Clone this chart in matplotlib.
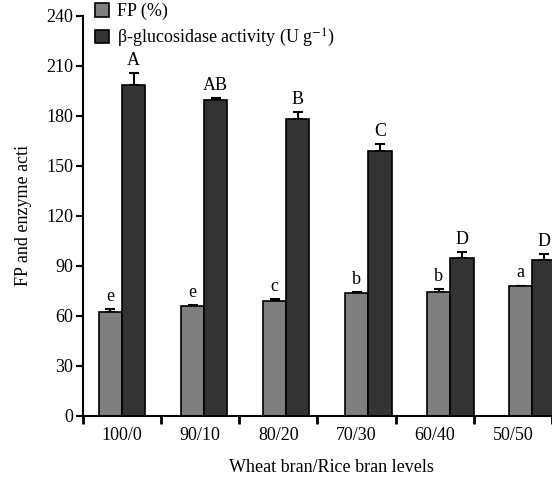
import numpy as np
import matplotlib
matplotlib.use("Agg")
import matplotlib.pyplot as plt

plt.rcParams['font.family'] = ['Liberation Serif', 'DejaVu Serif']
plt.rcParams['mathtext.fontset'] = 'stix'

# data
levels = ['100/0', '90/10', '80/20', '70/30', '60/40', '50/50']
fp = [62.6, 65.8, 69.2, 73.6, 74.2, 77.8]
fp_err = [1.6, 0.6, 1.0, 1.0, 1.8, 0.5]
enzyme = [198.8, 189.4, 178.4, 159.0, 94.8, 93.6]
enzyme_err = [7.0, 1.2, 4.2, 4.2, 3.6, 3.6]
fp_letters = ['e', 'e', 'c', 'b', 'b', 'a']
enzyme_letters = ['A', 'AB', 'B', 'C', 'D', 'D']

W, H = 552, 483
fig = plt.figure(figsize=(W / 100, H / 100), dpi=100)
ax = fig.add_axes([83 / W, (H - 416) / H, (W - 83) / W, 400 / H])

width = 0.297
# bar groups are spaced a little wider than the category labels
pos = np.arange(len(levels)) * 1.05

ax.bar(pos - width / 2, fp, width, color='#7f7f7f', edgecolor='black',
       linewidth=1.2, label='FP (%)', zorder=2)
ax.bar(pos + width / 2, enzyme, width, color='#333333', edgecolor='black',
       linewidth=1.2, label=r'β-glucosidase activity (U g$^{-1}$)', zorder=2)

zeros = np.zeros(len(levels))
ax.errorbar(pos - width / 2, fp, yerr=[zeros, fp_err], fmt='none',
            ecolor='black', elinewidth=1.5, capsize=3.8, capthick=1.5, zorder=1)
ax.errorbar(pos + width / 2, enzyme, yerr=[zeros, enzyme_err], fmt='none',
            ecolor='black', elinewidth=1.5, capsize=3.8, capthick=1.5, zorder=1)

for x, v, e, t in zip(pos - width / 2, fp, fp_err, fp_letters):
    ax.annotate(t, (x, v + e), xytext=(0, 3), textcoords='offset points',
                ha='center', va='bottom', fontsize=13)
for x, v, e, t in zip(pos + width / 2, enzyme, enzyme_err, enzyme_letters):
    ax.annotate(t, (x, v + e), xytext=(0, 3), textcoords='offset points',
                ha='center', va='bottom', fontsize=13, annotation_clip=False)

ax.set_xlim(-0.5, (W - 122.5) / 78.5)
ax.set_ylim(0, 240)
ax.set_yticks(np.arange(0, 241, 30))

# boundary ticks as major, category labels as minor
ax.set_xticks(np.arange(-0.5, 6, 1.0))
ax.set_xticklabels([])
ax.set_xticks(np.arange(len(levels)), minor=True)
ax.set_xticklabels(levels, minor=True)
ax.tick_params(axis='x', which='major', direction='out', length=6, width=2)
ax.tick_params(axis='x', which='minor', length=0, pad=8, labelsize=13)
ax.tick_params(axis='y', direction='out', length=5, width=1.5, labelsize=13, pad=2)

for s in ['top', 'right']:
    ax.spines[s].set_visible(False)
for s in ['left', 'bottom']:
    ax.spines[s].set_linewidth(1.5)

ax.set_ylabel('FP and enzyme acti', fontsize=13, labelpad=10)
fig.text(331 / W, 1 - 468 / H, 'Wheat bran/Rice bran levels', ha='center',
         va='center', fontsize=13)

ax.legend(loc='upper left', bbox_to_anchor=(95 / W, 1 - 3 / H),
          bbox_transform=fig.transFigure, frameon=False, fontsize=13,
          handlelength=0.75, handleheight=0.75, handletextpad=0.45,
          labelspacing=0.35, borderpad=0, borderaxespad=0)

fig.savefig('out.png', dpi=100)
